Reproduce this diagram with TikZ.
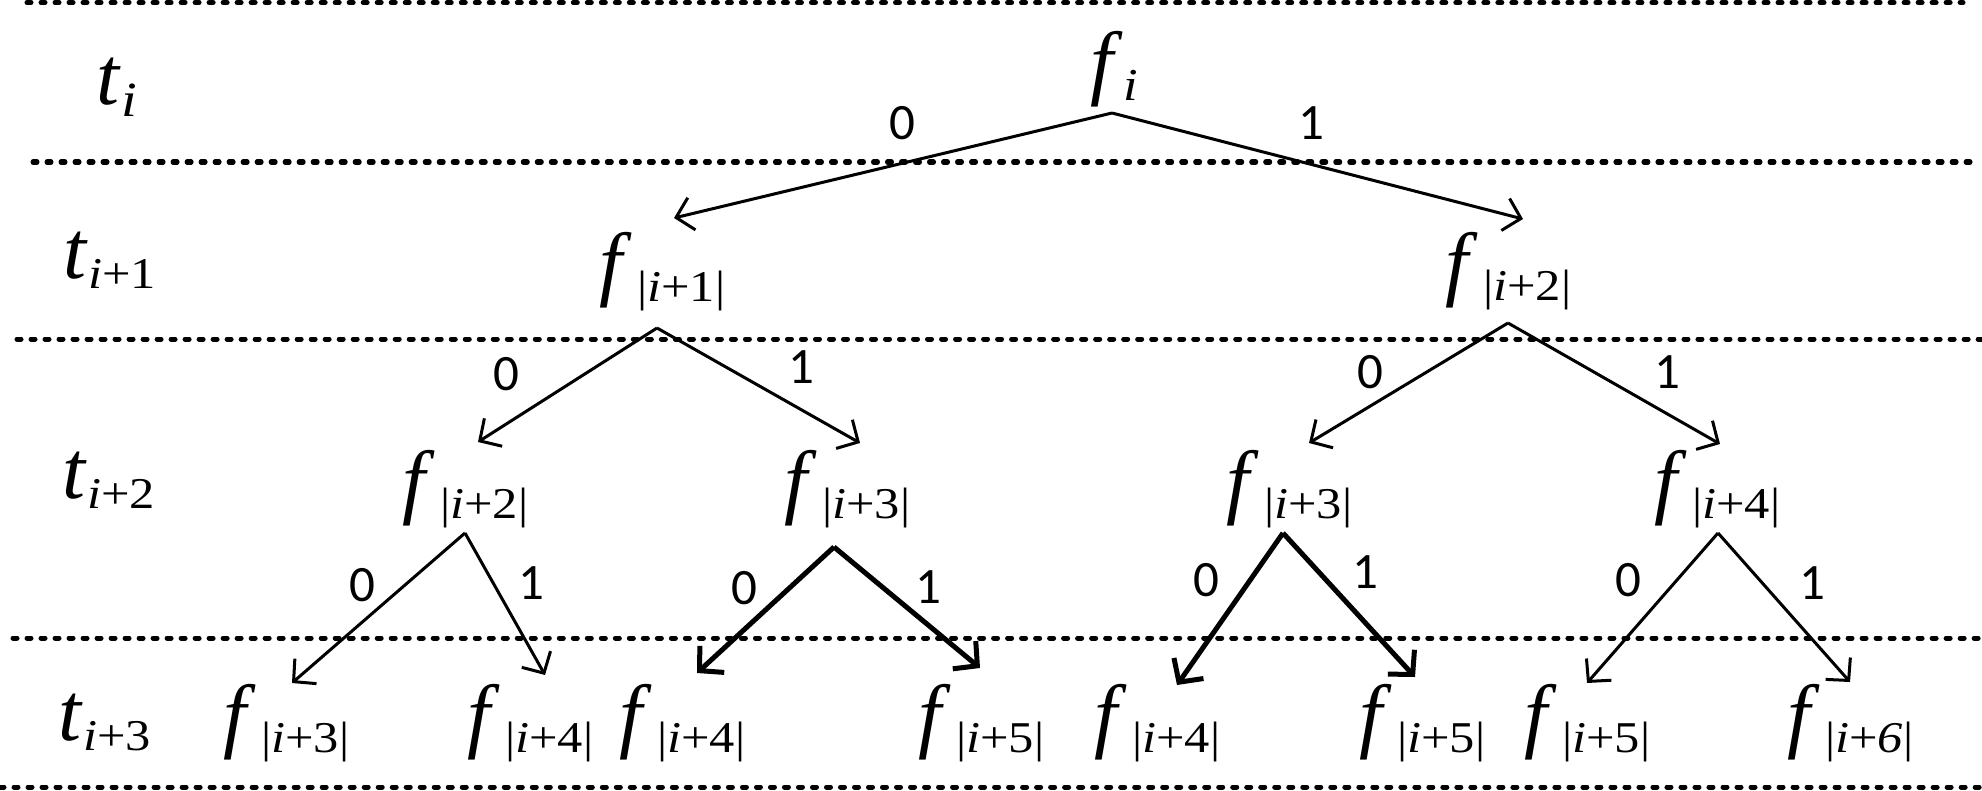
\documentclass[tikz,border=0pt]{standalone}
\usepackage{fontspec}
\setmainfont{Liberation Serif}
\newfontfamily\lblfont{Carlito}
\newfontfamily\subserif[FakeStretch=1.15]{Liberation Serif}
\usetikzlibrary{arrows.meta}
\newcommand{\subfont}{\subserif\fontsize{12.5pt}{12.5pt}\selectfont}
\newcommand{\fsub}[1]{\textit{f}\kern1.4pt\raisebox{-3.1pt}{\subfont|\textit{i}+#1|}}
\newcommand{\tsub}[1]{\textit{t}\raisebox{-2.9pt}{\subfont\textit{i}+#1}}
\begin{document}
\begin{tikzpicture}[x=0.01cm,y=-0.01cm,
  fnode/.style={anchor=base west,inner sep=0pt,font=\fontsize{23.5pt}{23.5pt}\selectfont},
  bit/.style={inner sep=0pt,font=\lblfont\fontsize{14.5pt}{14.5pt}\selectfont},
  sep/.style={line width=0.05cm,line cap=round,dash pattern=on 0.04cm off 0.10cm},
  arr/.style={line width=0.03cm,-{Straight Barb[length=0.16cm,width=0.33cm]}},
  arrthick/.style={line width=0.05cm,-{Straight Barb[length=0.17cm,width=0.36cm]}}]
\useasboundingbox (0,0) rectangle (1982,791);
% separators
\draw[sep] (27,2.5) -- (1963,2.5);
\draw[sep] (33,162) -- (1970,162);
\draw[sep] (17,339) -- (1982,339);
\draw[sep] (13,638) -- (1982,638);
\draw[sep] (0,787) -- (1982,787);
% row labels
\node[fnode] (t0) at (96,105) {\textit{t}\raisebox{-3.4pt}{\subserif\fontsize{14pt}{14pt}\selectfont\textit{i}}};
\node[fnode] (t1) at (63,278) {\tsub{1}};
\node[fnode] (t2) at (62,498) {\tsub{2}};
\node[fnode] (t3) at (58,740) {\tsub{3}};
% tree nodes
\node[fnode] (f0) at (1090,90) {\textit{f}\raisebox{-3.1pt}{\subserif\fontsize{13pt}{13pt}\selectfont\textit{i}}};
\node[fnode] (f1) at (599,291) {\fsub{1}};
\node[fnode] (f2) at (1445,290) {\fsub{2}};
\node[fnode] (f3) at (402,508) {\fsub{2}};
\node[fnode] (f4) at (784,508) {\fsub{3}};
\node[fnode] (f5) at (1226,508) {\fsub{3}};
\node[fnode] (f6) at (1654,508) {\fsub{4}};
\node[fnode] (g1) at (223,742) {\fsub{3}};
\node[fnode] (g2) at (467,742) {\fsub{4}};
\node[fnode] (g3) at (619,742) {\fsub{4}};
\node[fnode] (g4) at (918,742) {\fsub{5}};
\node[fnode] (g5) at (1094,742) {\fsub{4}};
\node[fnode] (g6) at (1359,742) {\fsub{5}};
\node[fnode] (g7) at (1524,742) {\fsub{5}};
\node[fnode] (g8) at (1787,742) {\fsub{\textit{6}}};
% connector end points
\coordinate (f0out) at (1112,113);
\coordinate (f1in) at (674,218);
\coordinate (f2in) at (1523,219);
\coordinate (f1out) at (657,328);
\coordinate (f3in) at (478,442);
\coordinate (f4in) at (860,443);
\coordinate (f2out) at (1508,323);
\coordinate (f5in) at (1309,443);
\coordinate (f6in) at (1720,444);
\coordinate (f3out) at (465,533);
\coordinate (g1in) at (292,683);
\coordinate (g2in) at (545,675);
\coordinate (f4out) at (834,547);
\coordinate (g3in) at (697,673);
\coordinate (g4in) at (980,668);
\coordinate (f5out) at (1283,533);
\coordinate (g5in) at (1177,685);
\coordinate (g6in) at (1415,677);
\coordinate (f6out) at (1718,533);
\coordinate (g7in) at (1587,683);
\coordinate (g8in) at (1850,682);
% connectors
\draw[arr] (f0out) -- (f1in);
\draw[arr] (f0out) -- (f2in);
\draw[arr] (f1out) -- (f3in);
\draw[arr] (f1out) -- (f4in);
\draw[arr] (f2out) -- (f5in);
\draw[arr] (f2out) -- (f6in);
\draw[arr] (f3out) -- (g1in);
\draw[arr] (f3out) -- (g2in);
\draw[arrthick] (f4out) -- (g3in);
\draw[arrthick] (f4out) -- (g4in);
\draw[arrthick] (f5out) -- (g5in);
\draw[arrthick] (f5out) -- (g6in);
\draw[arr] (f6out) -- (g7in);
\draw[arr] (f6out) -- (g8in);
% bit labels
\node[bit] (b00) at (902,123) {0};
\node[bit] (b01) at (1311,123) {1};
\node[bit] (b10) at (506,374) {0};
\node[bit] (b11) at (801,367) {1};
\node[bit] (b20) at (1370,372) {0};
\node[bit] (b21) at (1667,372) {1};
\node[bit] (b30) at (362,585) {0};
\node[bit] (b31) at (531,583) {1};
\node[bit] (b40) at (744,588) {0};
\node[bit] (b41) at (928,587) {1};
\node[bit] (b50) at (1206,580) {0};
\node[bit] (b51) at (1365,572) {1};
\node[bit] (b60) at (1628,580) {0};
\node[bit] (b61) at (1812,583) {1};
\end{tikzpicture}
\end{document}
